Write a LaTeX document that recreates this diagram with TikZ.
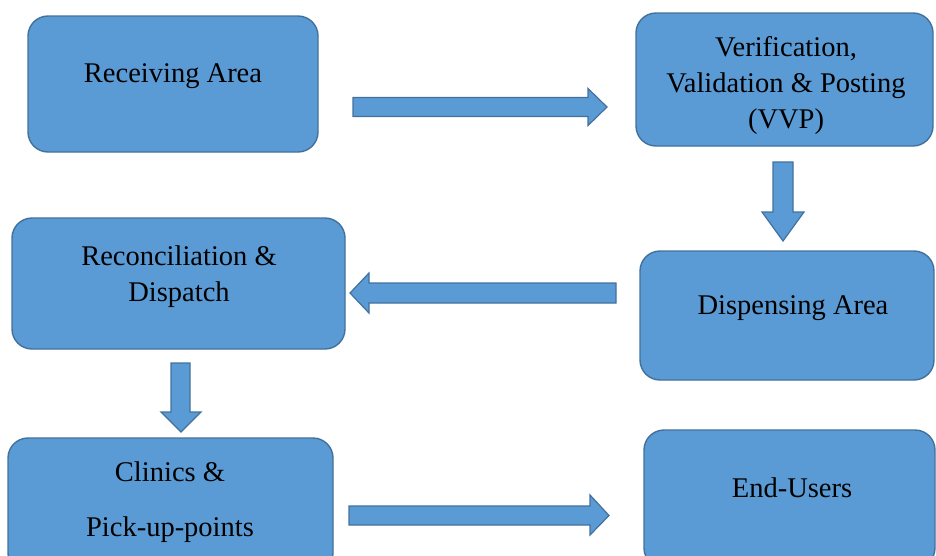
\documentclass[tikz,border=0pt]{standalone}
\usepackage{fontspec}
\setmainfont{Liberation Serif}
\definecolor{boxfill}{HTML}{5B9BD5}
\definecolor{boxline}{HTML}{41719C}
\begin{document}
\begin{tikzpicture}[x=1pt,y=-1pt,
  blk/.style={draw=boxline, line width=1.4pt, fill=boxfill, rounded corners=20pt, inner sep=0pt},
  lbl/.style={font=\fontsize{28.5}{36}\selectfont, align=center, inner sep=0pt, text=black},
  fat/.style={draw=boxline, line width=1.2pt, fill=boxfill, line join=miter}]
\useasboundingbox (0,0) rectangle (936,555);
\clip (0,0) rectangle (936,555);
% boxes
\node[blk, minimum width=290pt, minimum height=136pt] (recv)  at (173,84) {};
\node[blk, minimum width=297pt, minimum height=133pt] (vvp)   at (784.5,79.5) {};
\node[blk, minimum width=333pt, minimum height=131pt] (recon) at (178.5,283.5) {};
\node[blk, minimum width=294pt, minimum height=129pt] (disp)  at (787,315.5) {};
\node[blk, minimum width=325pt, minimum height=135pt] (clin)  at (170.5,505.5) {};
\node[blk, minimum width=291pt, minimum height=138pt] (endu)  at (789.5,499) {};
% labels
\node[lbl] (trecv)  at (173,76) {Receiving Area};
\node[lbl] (tvvp)   at (786,85) {Verification,\\Validation \& Posting\\(VVP)};
\node[lbl] (trecon) at (179,277) {Reconciliation \&\\Dispatch};
\node[lbl] (tdisp)  at (793,308) {Dispensing Area};
\node[lbl, font=\fontsize{28.5}{55}\selectfont] (tclin) at (170,502) {Clinics \&\\Pick-up-points};
\node[lbl] (tendu)  at (792,488) {End-Users};
% block arrows
% recv -> vvp
\draw[fat] (353,97.5) -- (588,97.5) -- (588,88.5) -- (607,107) -- (588,125.5) -- (588,116.5) -- (353,116.5) -- cycle;
% vvp -> disp
\draw[fat] (773,162) -- (793,162) -- (793,212) -- (804,212) -- (783,241) -- (762,212) -- (773,212) -- cycle;
% disp -> recon
\draw[fat] (616,283) -- (369,283) -- (369,273) -- (350,293) -- (369,313) -- (369,303) -- (616,303) -- cycle;
% recon -> clin
\draw[fat] (171,363) -- (190,363) -- (190,412) -- (201,412) -- (181,432) -- (161,412) -- (171,412) -- cycle;
% clin -> endu
\draw[fat] (349,506) -- (590,506) -- (590,495) -- (609,515.5) -- (590,535) -- (590,525) -- (349,525) -- cycle;
\end{tikzpicture}
\end{document}
